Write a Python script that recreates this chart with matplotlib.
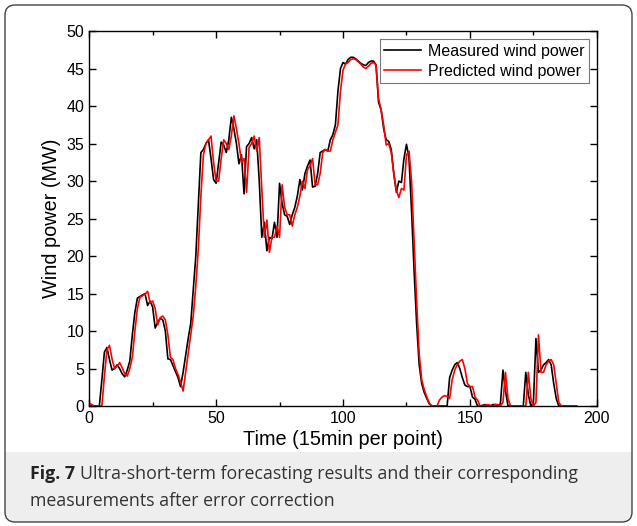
import numpy as np
from matplotlib import pyplot as plt
from matplotlib.patches import FancyBboxPatch, Rectangle

# time steps (15 min per point)
t = list(range(0, 193))

measured = [
    0, 0, 0, 0, 0, 3.5, 7.2, 7.8, 6.2, 4.8,
    5.0, 5.5, 5.0, 4.3, 3.9, 4.8, 6.0, 9.5, 12.5, 14.4,
    14.6, 14.8, 15.0, 13.4, 14.0, 13.2, 10.4, 11.2, 11.7, 11.5,
    10.0, 6.3, 6.2, 5.4, 4.6, 3.8, 2.6, 4.5, 6.8, 9.0,
    11.0, 15.5, 20.0, 27.0, 33.8, 34.2, 35.0, 35.5, 33.0, 30.2,
    29.7, 32.5, 35.2, 34.8, 33.8, 35.5, 38.5, 37.0, 35.0, 32.3,
    33.5, 28.3, 34.6, 35.0, 35.8, 34.3, 35.5, 30.0, 22.5, 24.5,
    20.7, 22.5, 22.3, 24.5, 22.5, 29.7, 27.0, 25.5, 25.3, 24.2,
    25.5, 26.5, 28.0, 30.2, 28.8, 31.0, 32.0, 32.8, 29.2, 29.3,
    31.0, 33.8, 34.0, 34.2, 34.0, 35.5, 36.2, 37.5, 42.0, 45.0,
    45.8, 45.6, 46.2, 46.5, 46.5, 46.3, 46.0, 45.7, 45.5, 45.4,
    45.8, 46.0, 46.0, 45.5, 40.5, 39.5, 37.0, 35.5, 35.3, 34.2,
    31.0, 28.5, 30.0, 29.8, 33.0, 34.9, 33.0, 26.0, 18.0, 11.0,
    5.5, 3.0, 1.8, 1.0, 0.3, 0, 0, 0, 0, 0,
    0, 0, 3.8, 4.8, 5.5, 5.8, 5.0, 3.8, 2.8, 2.6,
    2.6, 1.2, 0.9, 0, 0, 0.1, 0.2, 0.1, 0, 0.2,
    0.2, 0, 0.3, 4.8, 2.0, 0, 0, 0, 0, 0,
    0, 0, 4.5, 1.5, 0, 0.5, 9.0, 4.5, 4.8, 5.5,
    5.8, 6.2, 5.5, 3.0, 1.0, 0, 0, 0, 0, 0,
    0, 0, 0,
]

predicted = [
    0.4, 0.2, 0, 0, 0, 0, 4.0, 7.5, 8.1, 6.3,
    5.0, 5.3, 5.8, 5.1, 4.3, 4.0, 5.0, 6.5, 10.0, 13.0,
    14.5, 14.7, 14.9, 15.3, 13.8, 14.0, 13.0, 10.8, 11.8, 12.0,
    11.5, 9.5, 6.5, 6.2, 5.0, 4.2, 3.2, 2.0, 4.5, 7.0,
    9.5, 12.0, 16.0, 21.0, 28.0, 33.5, 35.0, 35.5, 36.0, 32.5,
    30.0, 30.0, 33.0, 35.5, 35.0, 34.2, 36.0, 38.7, 37.0, 35.0,
    32.5, 33.0, 28.5, 34.5, 35.0, 36.0, 34.0, 35.8, 29.0, 22.5,
    24.8, 20.5, 22.5, 22.5, 24.0, 22.5, 29.5, 26.5, 25.5, 25.5,
    24.0, 25.5, 26.5, 28.0, 30.0, 29.0, 31.5, 32.0, 33.0, 29.5,
    29.5, 31.0, 33.8, 34.2, 34.0, 34.0, 35.5, 36.5, 37.5, 42.0,
    44.8, 45.6, 45.8, 46.2, 46.3, 46.2, 45.9, 45.6, 45.2, 45.0,
    45.3, 45.7, 45.8, 45.5, 41.0, 39.5, 37.5, 34.8, 35.0, 33.8,
    31.0, 28.8, 27.8, 29.0, 28.8, 33.5, 34.0, 30.0, 22.0, 14.0,
    7.0, 3.5, 2.2, 1.2, 0.4, 0, 0, 0, 0.8, 1.2,
    1.4, 1.3, 1.0, 3.5, 4.8, 5.5, 6.0, 6.2, 5.0, 3.0,
    2.6, 2.6, 1.2, 0.8, 0, 0, 0.1, 0.2, 0.1, 0,
    0.2, 0.2, 0, 0.5, 4.5, 1.0, 0, 0, 0, 0,
    0, 0, 0, 4.5, 1.0, 0, 0.5, 9.5, 4.5, 4.5,
    5.5, 6.0, 6.2, 5.5, 3.0, 0.5, 0, 0, 0, 0,
    0, 0, 0,
]

plt.rcParams['font.family'] = ['Liberation Sans', 'DejaVu Sans']

fig = plt.figure(figsize=(6.37, 5.26), dpi=100)

# caption panel + rounded frame (in inches so corners stay round)
tr = fig.dpi_scale_trans
fig.patches.append(FancyBboxPatch((0.05, 0.04), 6.27, 0.7, boxstyle='round,pad=0,rounding_size=0.1',
                                  transform=tr, facecolor='#eeeeee', edgecolor='none', zorder=-2))
fig.patches.append(Rectangle((0.05, 0.4), 6.27, 0.34, transform=tr,
                             facecolor='#eeeeee', edgecolor='none', zorder=-2))
fig.patches.append(FancyBboxPatch((0.05, 0.04), 6.27, 5.17, boxstyle='round,pad=0,rounding_size=0.1',
                                  transform=tr, facecolor='none', edgecolor='#444444', lw=1.0, zorder=-1))

ax = fig.add_axes([0.140, 0.228, 0.797, 0.713])
ax.plot(t, measured, color='black', lw=1.2, label='Measured wind power')
ax.plot(t, predicted, color='red', lw=1.2, label='Predicted wind power')

ax.set_xlim(0, 200)
ax.set_ylim(0, 50)
ax.set_xticks([0, 50, 100, 150, 200])
ax.set_xticks([25, 75, 125, 175], minor=True)
ax.set_yticks(np.arange(0, 51, 5))
ax.tick_params(which='both', direction='in', top=True, right=True, labelsize=11.5, width=1.0)
ax.tick_params(which='major', length=5)
ax.tick_params(which='minor', length=3)
for s in ax.spines.values():
    s.set_linewidth(1.0)

ax.set_xlabel('Time (15min per point)', fontsize=14.3, labelpad=3)
ax.set_ylabel('Wind power (MW)', fontsize=14.3, labelpad=4)

leg = ax.legend(loc='upper right', fontsize=11.5, frameon=True, fancybox=False,
                borderaxespad=0.5, handlelength=2.3, handletextpad=0.4,
                borderpad=0.3, labelspacing=0.3)
leg.get_frame().set_edgecolor('#555555')
leg.get_frame().set_linewidth(0.8)

# caption: bold "Fig. 7" followed by regular text
cap_font = ['Open Sans', 'DejaVu Sans']
y1 = 1 - 474 / 526
y2 = 1 - 501 / 526
t1 = fig.text(30 / 637, y1, 'Fig. 7', fontsize=12.8, fontweight='bold',
              family=cap_font, va='center', color='#222222')
fig.canvas.draw()
bb = t1.get_window_extent(fig.canvas.get_renderer())
fig.text(bb.x1 / fig.bbox.width + 0.007, y1,
         'Ultra-short-term forecasting results and their corresponding',
         fontsize=12.8, family=cap_font, va='center', color='#333333')
fig.text(30 / 637, y2, 'measurements after error correction',
         fontsize=12.8, family=cap_font, va='center', color='#333333')

fig.savefig('out.png', dpi=100)
